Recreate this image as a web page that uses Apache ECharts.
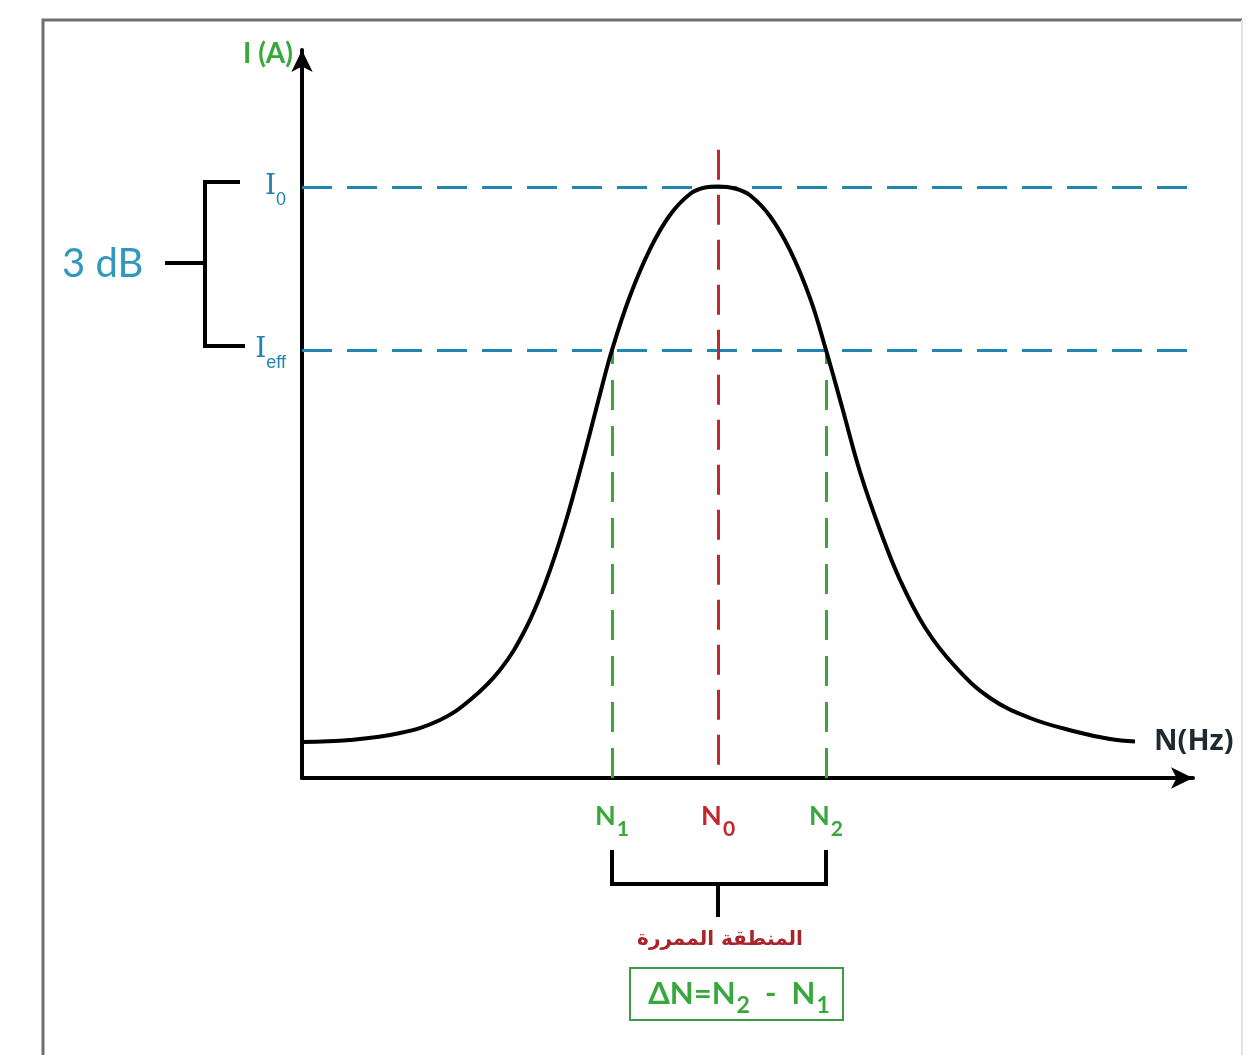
<!DOCTYPE html>
<html>
<head>
<meta charset="utf-8">
<script src="https://cdn.jsdelivr.net/npm/echarts@6/dist/echarts.min.js"></script>
<style>
  html, body { margin: 0; padding: 0; background: #fff; }
  #chart { width: 1248px; height: 1055px; }
</style>
</head>
<body>
<div id="chart"></div>
<script>
// courbe de résonance
const freq = [0, 5.39, 11.0, 15.49, 18.86, 22.22, 25.03, 27.27, 29.52, 31.76, 33.45, 34.79, 36.81,
  39.06, 41.3, 43.55, 45.23, 46.69, 48.6, 50.28, 52.53, 54.77, 57.02, 58.81, 60.61, 62.63,
  64.87, 67.12, 69.92, 73.29, 77.22, 81.71, 86.76, 90.68, 93.49];
const current = [4.95, 5.22, 6.18, 7.97, 10.71, 14.84, 20.33, 26.65, 34.89, 44.78, 52.75, 58.79, 66.21,
  72.66, 77.34, 80.22, 81.11, 81.25, 80.98, 80.05, 77.17, 72.5, 65.91, 58.79, 50.96, 42.03,
  34.07, 27.2, 20.67, 15.32, 10.99, 8.24, 6.39, 5.36, 5.01];

// points remarquables
const N1 = 34.8;
const N0 = 46.7;
const N2 = 58.8;
const I0 = 81.2;
const Ieff = 58.8;
const redTop = 86.3;

const blue = '#1f86b2';
const red = '#c1272d';
const green = '#38a83c';

const chart = echarts.init(document.getElementById('chart'));

const subLabel = (main, sub, color, size) => ({
  show: true,
  position: 'end',
  distance: 22,
  formatter: '{m|' + main + '}{s|' + sub + '}',
  rich: {
    m: { fontSize: size, fontWeight: 'bold', color: color, fontFamily: 'Lato', verticalAlign: 'middle', lineHeight: size + 6 },
    s: { fontSize: size * 0.78, fontWeight: 'bold', color: color, fontFamily: 'Lato', verticalAlign: 'bottom', lineHeight: size + 6, padding: [0, 0, -7, 1] },
  },
});

const serifLabel = (main, sub) => ({
  show: true,
  position: 'start',
  distance: 16,
  formatter: '{m|' + main + '}{s|' + sub + '}',
  rich: {
    m: { fontSize: 28, color: blue, fontFamily: 'DejaVu Serif', verticalAlign: 'middle', lineHeight: 30 },
    s: { fontSize: 18, color: blue, fontFamily: 'Liberation Sans', verticalAlign: 'bottom', lineHeight: 30, padding: [0, 0, -7, 0] },
  },
});

const option = {
  animation: false,
  backgroundColor: '#fff',
  grid: { left: 302, top: 50, right: 55, bottom: 277, containLabel: false },
  xAxis: {
    type: 'value',
    min: 0,
    max: 100,
    axisLine: { show: true, symbol: ['none', 'arrow'], symbolSize: [16, 22], lineStyle: { color: '#000', width: 4 } },
    axisTick: { show: false },
    axisLabel: { show: false },
    splitLine: { show: false },
  },
  yAxis: {
    type: 'value',
    min: 0,
    max: 100,
    name: 'I (A)',
    nameLocation: 'end',
    nameGap: -18,
    nameTextStyle: { color: green, fontSize: 28, fontWeight: 'bold', fontFamily: 'Lato', align: 'right', padding: [0, 9, 0, 0] },
    axisLine: { show: true, symbol: ['none', 'arrow'], symbolSize: [16, 22], lineStyle: { color: '#000', width: 4 } },
    axisTick: { show: false },
    axisLabel: { show: false },
    splitLine: { show: false },
  },
  series: [
    {
      type: 'line',
      data: freq.map((f, i) => [f, current[i]]),
      smooth: 0.4,
      showSymbol: false,
      lineStyle: { color: '#000', width: 4 },
      z: 5,
      markLine: {
        silent: true,
        symbol: ['none', 'none'],
        animation: false,
        data: [
          [
            { coord: [0, I0], lineStyle: { color: blue, width: 3, type: [30, 15] }, label: serifLabel('I', '0') },
            { coord: [100, I0] },
          ],
          [
            { coord: [0, Ieff], lineStyle: { color: blue, width: 3, type: [30, 15] }, label: serifLabel('I', 'eff') },
            { coord: [100, Ieff] },
          ],
          [
            { coord: [N0, redTop], lineStyle: { color: red, width: 3, type: [30, 15] }, label: subLabel('N', '0', red, 27) },
            { coord: [N0, 0] },
          ],
          [
            { coord: [N1, Ieff], lineStyle: { color: green, width: 3, type: [30, 16], dashOffset: 16 }, label: subLabel('N', '1', green, 27) },
            { coord: [N1, 0] },
          ],
          [
            { coord: [N2, Ieff], lineStyle: { color: green, width: 3, type: [30, 16], dashOffset: 16 }, label: subLabel('N', '2', green, 27) },
            { coord: [N2, 0] },
          ],
        ],
      },
    },
  ],
  graphic: [
    // cadre
    { type: 'polyline', shape: { points: [[43, 1060], [43, 20], [1242, 20]] }, style: { stroke: '#6e6e6e', lineWidth: 3, fill: null } },
    { type: 'line', shape: { x1: 1242, y1: 20, x2: 1242, y2: 1060 }, style: { stroke: '#e4e4e4', lineWidth: 2 } },
    // accolade 3 dB
    { type: 'polyline', shape: { points: [[240, 182], [205, 182], [205, 346], [245, 346]] }, style: { stroke: '#000', lineWidth: 4, fill: null } },
    { type: 'line', shape: { x1: 165, y1: 263, x2: 205, y2: 263 }, style: { stroke: '#000', lineWidth: 4 } },
    { type: 'text', x: 62, y: 264, style: { text: '3 dB', fill: '#3198bd', font: '40px Lato', verticalAlign: 'middle' } },
    // N(Hz)
    { type: 'text', x: 1154, y: 742, style: { text: 'N(Hz)', fill: '#1e2a30', font: 'bold 29px "Open Sans"', verticalAlign: 'middle' } },
    // accolade bande passante
    { type: 'polyline', shape: { points: [[612, 850], [612, 884], [826, 884], [826, 850]] }, style: { stroke: '#000', lineWidth: 4, fill: null } },
    { type: 'line', shape: { x1: 718, y1: 884, x2: 718, y2: 917 }, style: { stroke: '#000', lineWidth: 4 } },
    { type: 'text', x: 720, y: 940, style: { text: 'المنطقة الممررة', fill: '#a8232a', font: 'bold 20px "DejaVu Sans"', align: 'center', verticalAlign: 'middle' } },
    { type: 'rect', shape: { x: 630, y: 968, width: 213, height: 52 }, style: { stroke: '#3f9a45', lineWidth: 2, fill: null } },
    {
      type: 'text', x: 739, y: 994,
      style: {
        text: '{m|ΔN=N}{s|2}{m|  -  N}{s|1}',
        align: 'center',
        verticalAlign: 'middle',
        rich: {
          m: { fontSize: 31, fontWeight: 'bold', fill: green, fontFamily: 'Lato', verticalAlign: 'middle', lineHeight: 34 },
          s: { fontSize: 23, fontWeight: 'bold', fill: green, fontFamily: 'Lato', verticalAlign: 'bottom', lineHeight: 34, padding: [0, 0, -6, 1] },
        },
      },
    },
  ],
};

chart.setOption(option);
</script>
</body>
</html>
